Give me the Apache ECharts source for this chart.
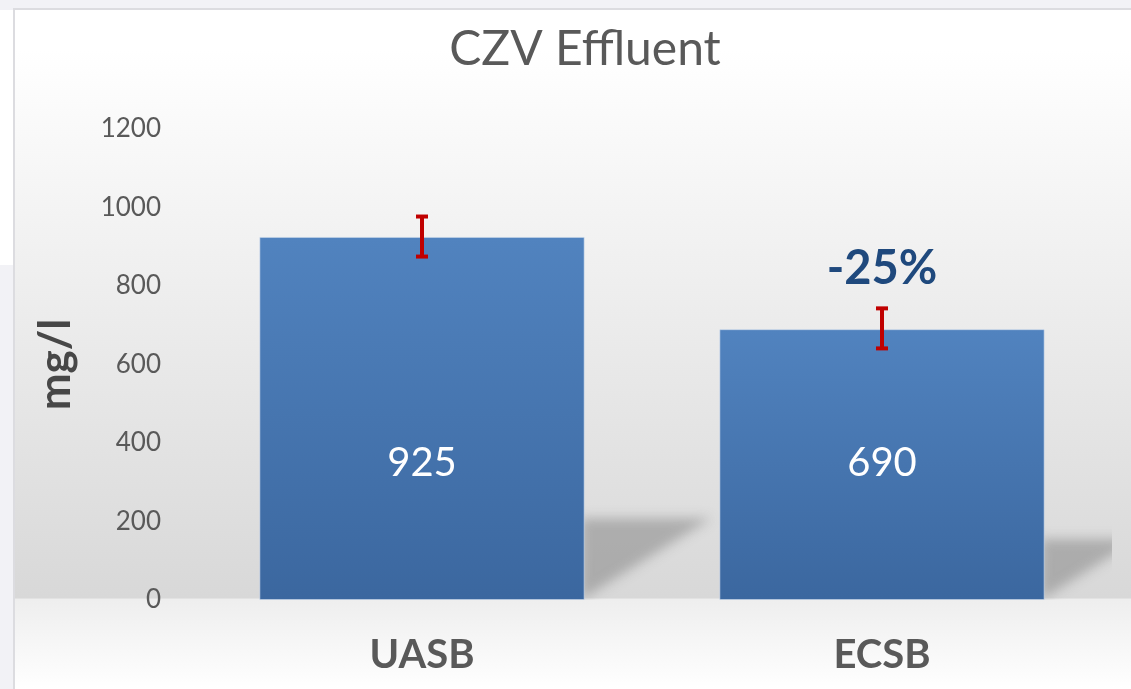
<!DOCTYPE html>
<html>
<head>
<meta charset="utf-8">
<script src="https://cdn.jsdelivr.net/npm/echarts@6/dist/echarts.min.js"></script>
<style>
  html, body { margin: 0; padding: 0; width: 1131px; height: 689px; overflow: hidden; background: #f2f2f6; }
  #strip { position: absolute; left: 0; top: 10px; width: 13px; height: 255px; background: #ffffff; }
  #frameL { position: absolute; left: 13px; top: 8px; width: 2px; height: 681px; background: #dcdce0; }
  #frameT { position: absolute; left: 13px; top: 8px; width: 1118px; height: 2px; background: #dcdce0; }
  #chart { position: absolute; left: 14px; top: 9px; width: 1117px; height: 680px; }
</style>
</head>
<body>
<div id="strip"></div>
<div id="chart"></div>
<div id="frameL"></div>
<div id="frameT"></div>
<script>
const categories = ['UASB', 'ECSB'];
const values = [925, 690];
const errLow = [875, 641];
const errHigh = [977, 743];
const changeLabels = ['', '-25%'];
const yTicks = { min: 0, max: 1200, interval: 200 };

const FONT = 'Lato';
const chart = echarts.init(document.getElementById('chart'), null, { renderer: 'canvas' });

const option = {
  animation: false,
  backgroundColor: {
    type: 'linear', x: 0, y: 0, x2: 0, y2: 1,
    colorStops: [
      { offset: 0, color: '#ffffff' },
      { offset: 0.06, color: '#ffffff' },
      { offset: 0.866, color: '#d8d8d8' },
      { offset: 0.868, color: '#eeeeee' },
      { offset: 1, color: '#ffffff' }
    ]
  },
  title: {
    text: 'CZV Effluent',
    left: 566, top: 12, textAlign: 'center',
    textStyle: { fontFamily: FONT, fontSize: 48, fontWeight: 'normal', color: '#595959' }
  },
  grid: { left: 178, right: 19, top: 120, bottom: 89 },
  xAxis: {
    type: 'category',
    data: categories,
    axisLine: { show: false },
    axisTick: { show: false },
    axisLabel: { margin: 35, fontFamily: FONT, fontSize: 40, fontWeight: 'bold', color: '#595959' }
  },
  yAxis: {
    type: 'value',
    min: yTicks.min, max: yTicks.max, interval: yTicks.interval,
    name: 'mg/l',
    nameLocation: 'middle',
    nameRotate: 90,
    nameGap: 114,
    nameTextStyle: { fontFamily: FONT, fontSize: 44, fontWeight: 'bold', color: '#474747' },
    axisLine: { show: false },
    axisTick: { show: false },
    splitLine: { show: false },
    axisLabel: {
      margin: 31, fontFamily: FONT, fontSize: 26, color: '#595959',
      formatter: function (v) { return String(v); }
    }
  },
  series: [
    {
      type: 'custom',
      name: 'shadow',
      clip: true,
      z: 1,
      silent: true,
      data: values.map((v, i) => [i, v]),
      renderItem: function (params, api) {
        const idx = api.value(0);
        const v = api.value(1);
        const bw = api.size([1, 0])[0] * 0.707;
        const base = api.coord([idx, 0]);
        const top = api.coord([idx, v * 0.225]);
        const x0 = base[0] + bw / 2 - 4;
        const h = base[1] - top[1];
        const w = h * 1.6;
        const off = 3000;
        return {
          type: 'polygon',
          shape: { points: [[x0 - off, top[1]], [x0 + w - off, top[1]], [x0 - off, base[1]]] },
          style: {
            fill: 'rgba(90,90,90,0.6)',
            shadowBlur: 12,
            shadowOffsetX: off,
            shadowColor: 'rgba(95,95,95,0.62)'
          }
        };
      }
    },
    {
      type: 'bar',
      name: 'CZV',
      z: 2,
      data: values,
      barWidth: '70.7%',
      itemStyle: {
        color: {
          type: 'linear', x: 0, y: 0, x2: 0, y2: 1,
          colorStops: [
            { offset: 0, color: '#5183bf' },
            { offset: 1, color: '#3b679f' }
          ]
        },
        borderColor: 'rgba(200,215,235,0.6)',
        borderWidth: 1
      },
      label: {
        show: true,
        position: 'insideBottom',
        distance: 117,
        fontFamily: FONT,
        fontSize: 40,
        color: '#ffffff'
      }
    },
    {
      type: 'custom',
      name: 'error',
      z: 3,
      data: categories.map((c, i) => [i, errLow[i], errHigh[i]]),
      renderItem: function (params, api) {
        const idx = api.value(0);
        const lo = api.coord([idx, api.value(1)]);
        const hi = api.coord([idx, api.value(2)]);
        const cap = 6;
        const st = { stroke: '#c00000', lineWidth: 4 };
        const children = [
          { type: 'line', shape: { x1: lo[0], y1: lo[1], x2: hi[0], y2: hi[1] }, style: st },
          { type: 'line', shape: { x1: lo[0] - cap, y1: lo[1], x2: lo[0] + cap, y2: lo[1] }, style: st },
          { type: 'line', shape: { x1: hi[0] - cap, y1: hi[1], x2: hi[0] + cap, y2: hi[1] }, style: st }
        ];
        const txt = changeLabels[params.dataIndex];
        if (txt) {
          children.push({
            type: 'text',
            style: {
              text: txt, x: hi[0], y: hi[1] - 40,
              align: 'center', verticalAlign: 'middle',
              font: 'bold 47px ' + FONT, fill: '#1f497d'
            }
          });
        }
        return { type: 'group', children: children };
      }
    }
  ]
};
chart.setOption(option);
</script>
</body>
</html>
